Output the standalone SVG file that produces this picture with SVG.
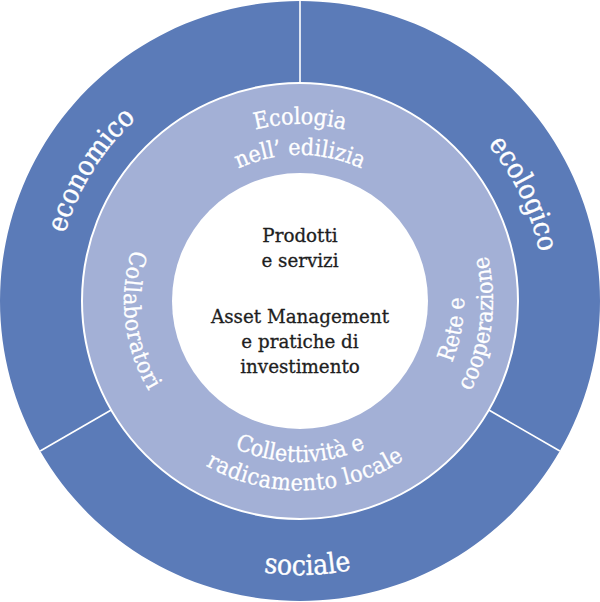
<svg xmlns="http://www.w3.org/2000/svg" width="600" height="602" viewBox="0 0 600 602">
<style>
.outer{fill:#5b7bb8;}
.div{stroke:#ffffff;stroke-width:1.6;fill:none;}
.mid{fill:#a3b0d6;stroke:#ffffff;stroke-width:2;}
.core{fill:#ffffff;}
.t-out{font-family:"DejaVu Serif Condensed","DejaVu Serif",serif;font-stretch:condensed;font-size:28px;fill:#ffffff;stroke:#ffffff;stroke-width:0.4;}
.t-mid{font-family:"DejaVu Serif Condensed","DejaVu Serif",serif;font-stretch:condensed;font-size:23px;fill:#ffffff;stroke:#ffffff;stroke-width:0.3;}
.t-in{font-family:"DejaVu Serif","Liberation Serif",serif;font-size:18.3px;fill:#1e1e1e;stroke:#1e1e1e;stroke-width:0.3;text-anchor:middle;}
</style>
<defs>
<path id="p-economico" d="M168.6,511.3 A248,248 0 0 1 431.4,90.7"/>
<path id="p-ecologico" d="M192.4,76.5 A249,249 0 0 1 407.6,525.5"/>
<path id="p-sociale" d="M26.1,308.7 A274,274 0 0 0 573.9,293.4"/>
<path id="p-ecologia" d="M123,301 A177,177 0 0 1 477,301"/>
<path id="p-nell" d="M154,301 A146,146 0 0 1 446,301"/>
<path id="p-rete" d="M270.1,462.3 A164,164 0 0 0 329.9,139.7"/>
<path id="p-coop" d="M275.8,492.5 A193,193 0 0 0 324.2,109.5"/>
<path id="p-collab" d="M278.5,126.3 A176,176 0 0 0 321.5,475.7"/>
<path id="p-collett" d="M139,301 A161,161 0 0 0 461,301"/>
<path id="p-radic" d="M109.1,307 A191,191 0 0 0 490.9,295"/>
</defs>

<g id="seg-economico">
<path class="outer" d="M40.2,451 A300,300 0 0 1 300,1 L300,83 A218,218 0 0 0 111.2,410 Z"/>
<text class="t-out"><textPath href="#p-economico" startOffset="50%" text-anchor="middle">economico</textPath></text>
</g>
<g id="seg-ecologico">
<path class="outer" d="M300,1 A300,300 0 0 1 559.8,451 L488.8,410 A218,218 0 0 0 300,83 Z"/>
<text class="t-out"><textPath href="#p-ecologico" startOffset="50%" text-anchor="middle">ecologico</textPath></text>
</g>
<g id="seg-sociale">
<path class="outer" d="M559.8,451 A300,300 0 0 1 40.2,451 L111.2,410 A218,218 0 0 0 488.8,410 Z"/>
<text class="t-out"><textPath href="#p-sociale" startOffset="50%" text-anchor="middle">sociale</textPath></text>
</g>

<g id="connectors">
<line class="div" x1="300" y1="0" x2="300" y2="83"/>
<line class="div" x1="488.8" y1="410" x2="559.8" y2="451"/>
<line class="div" x1="111.2" y1="410" x2="40.2" y2="451"/>
</g>

<g id="middle-ring">
<circle class="mid" cx="300" cy="301" r="218"/>
</g>
<g id="ecologia-edilizia">
<text class="t-mid"><textPath href="#p-ecologia" startOffset="50%" text-anchor="middle">Ecologia</textPath></text>
<text class="t-mid"><textPath href="#p-nell" startOffset="50%" text-anchor="middle">nell’ edilizia</textPath></text>
</g>
<g id="rete-cooperazione">
<text class="t-mid"><textPath href="#p-rete" startOffset="50%" text-anchor="middle">Rete e</textPath></text>
<text class="t-mid"><textPath href="#p-coop" startOffset="50%" text-anchor="middle">cooperazione</textPath></text>
</g>
<g id="collaboratori">
<text class="t-mid" letter-spacing="0.6"><textPath href="#p-collab" startOffset="50%" text-anchor="middle">Collaboratori</textPath></text>
</g>
<g id="collettivita">
<text class="t-mid"><textPath href="#p-collett" startOffset="50%" text-anchor="middle">Collettività e</textPath></text>
<text class="t-mid" letter-spacing="0.5"><textPath href="#p-radic" startOffset="50%" text-anchor="middle">radicamento locale</textPath></text>
</g>

<g id="core">
<circle class="core" cx="300" cy="301" r="128"/>
<text class="t-in" x="300" y="242">Prodotti</text>
<text class="t-in" x="300" y="267">e servizi</text>
<text class="t-in" x="300" y="323">Asset Management</text>
<text class="t-in" x="300" y="348">e pratiche di</text>
<text class="t-in" x="300" y="373">investimento</text>
</g>
</svg>
